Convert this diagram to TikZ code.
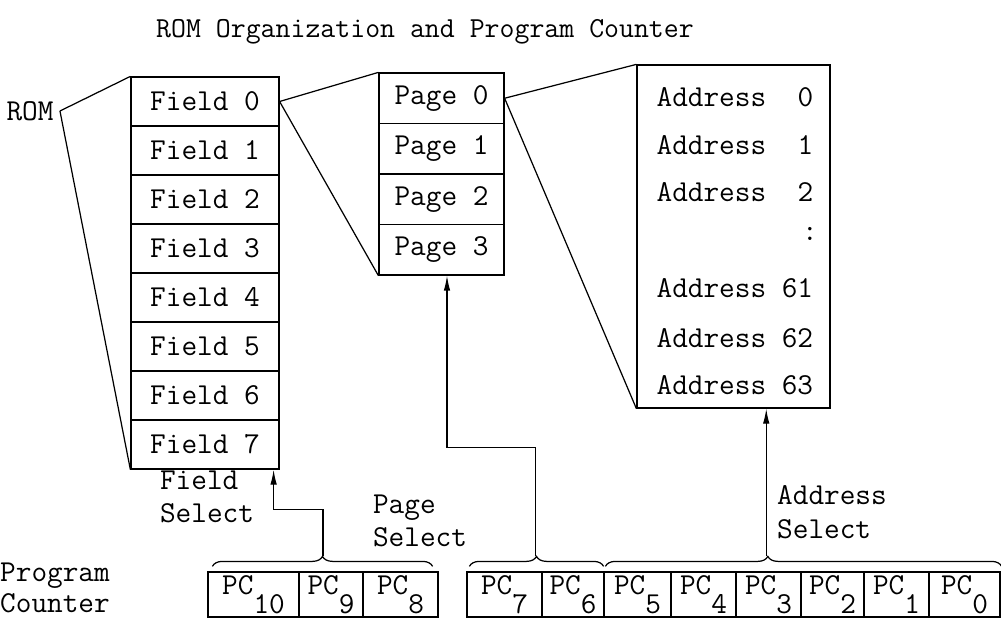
\documentclass[tikz,border=0pt]{standalone}
\usepackage{fontspec}
\usetikzlibrary{arrows.meta,calc,decorations.pathreplacing}

\newcommand{\pcbit}[1]{PC\raisebox{-0.62em}{#1}}

\begin{document}
\begin{tikzpicture}[font=\ttfamily\fontsize{17.3}{19}\selectfont, line width=0.7pt]
\useasboundingbox (0,0) rectangle (20.02,12.4);

\node (title) at (8.5,11.76) {\fontsize{16.5}{19}\selectfont ROM Organization and Program Counter};
\node (rom) at (0.6,10.18) {ROM};

\begin{scope}[every node/.style={draw,minimum width=2.96cm,minimum height=0.98cm,inner sep=0pt}]
    \foreach \i in {0,...,7}
        \node (f\i) at (4.10,10.37-0.98*\i) {Field \i};
\end{scope}

\begin{scope}[every node/.style={draw,minimum width=2.5cm,minimum height=1.01cm,inner sep=0pt}]
    \foreach \i in {0,...,3}
        \node (p\i) at (8.83,10.435-1.01*\i) {Page \i};
\end{scope}

\node[draw,minimum width=3.86cm,minimum height=6.86cm] (addr) at (14.67,7.67) {};
\begin{scope}[every node/.style={anchor=west,inner sep=0pt}]
    \node (a0) at (13.12,10.46) {Address\ \ 0};
    \node (a1) at (13.12,9.50) {Address\ \ 1};
    \node (a2) at (13.12,8.56) {Address\ \ 2};
    \node (a61) at (13.12,6.64) {Address 61};
    \node (a62) at (13.12,5.64) {Address 62};
    \node (a63) at (13.12,4.70) {Address 63};
\end{scope}
\node (dots) at (16.2,7.72) {:};

% program counter
\begin{scope}[every node/.style={draw,minimum height=0.9cm,inner sep=0pt}]
    \foreach \n/\x/\w in {10/5.07/1.82, 9/6.62/1.28, 8/8.01/1.5,
                          7/10.09/1.5, 6/11.46/1.24, 5/12.75/1.34, 4/14.07/1.3,
                          3/15.37/1.3, 2/16.65/1.26, 1/17.93/1.3, 0/19.29/1.42}
        \node[minimum width=\w cm] (r\n) at (\x,0.51) {\pcbit{\n}};
\end{scope}

\begin{scope}[every node/.style={align=left,inner sep=0pt}]
    \node (fsel) at (4.14,2.46) {Field\\Select};
    \node (psel) at (8.4,1.98) {Page\\Select};
    \node (asel) at (16.64,2.16) {Address\\Select};
    \node[font=\ttfamily\fontsize{17.3}{17.5}\selectfont] (pc) at (1.1,0.64) {Program\\Counter};
\end{scope}

% fan-out lines
\begin{scope}[every edge/.style={draw=black,line width=0.7pt}]
    \path (rom.east) edge (f0.north west);
    \path (rom.east) edge (f7.south west);
    \path (f0.east) edge (p0.north west);
    \path (f0.east) edge (p3.south west);
    \path (p0.east) edge (addr.north west);
    \path (p0.east) edge (addr.south west);
\end{scope}

% braces
\begin{scope}[decoration={brace,amplitude=0.2cm}]
    \draw[decorate] ($(r10.north west)+(0.1,0.1)$) -- ($(r8.north east)+(-0.12,0.1)$);
    \draw[decorate] ($(r7.north west)+(0.06,0.1)$) -- ($(r6.north east)+(-0.02,0.1)$);
    \draw[decorate,decoration={aspect=0.41}] ($(r5.north west)+(0.04,0.1)$) -- ($(r0.north east)+(0.02,0.1)$);
\end{scope}
\coordinate (fstip) at ($(r10.north west)!0.5!(r8.north east)+(0,0.3)$);
\coordinate (pstip) at ($(r7.north west)!0.5!(r6.north east)+(0,0.3)$);
\coordinate (astip) at ($(r5.north west)!0.41!(r0.north east)+(0,0.3)$);

% select lines
\begin{scope}[-{Latex[length=3mm,width=1.3mm]}]
    \draw (fstip) -- ++(0,0.94) -| ($(f7.south east)+(-0.12,0)$);
    \draw (pstip) -- ++(0,2.18) -| ($(p3.south)+(0.11,0)$);
    \draw (astip) -- (astip |- addr.south);
\end{scope}
\end{tikzpicture}
\end{document}
